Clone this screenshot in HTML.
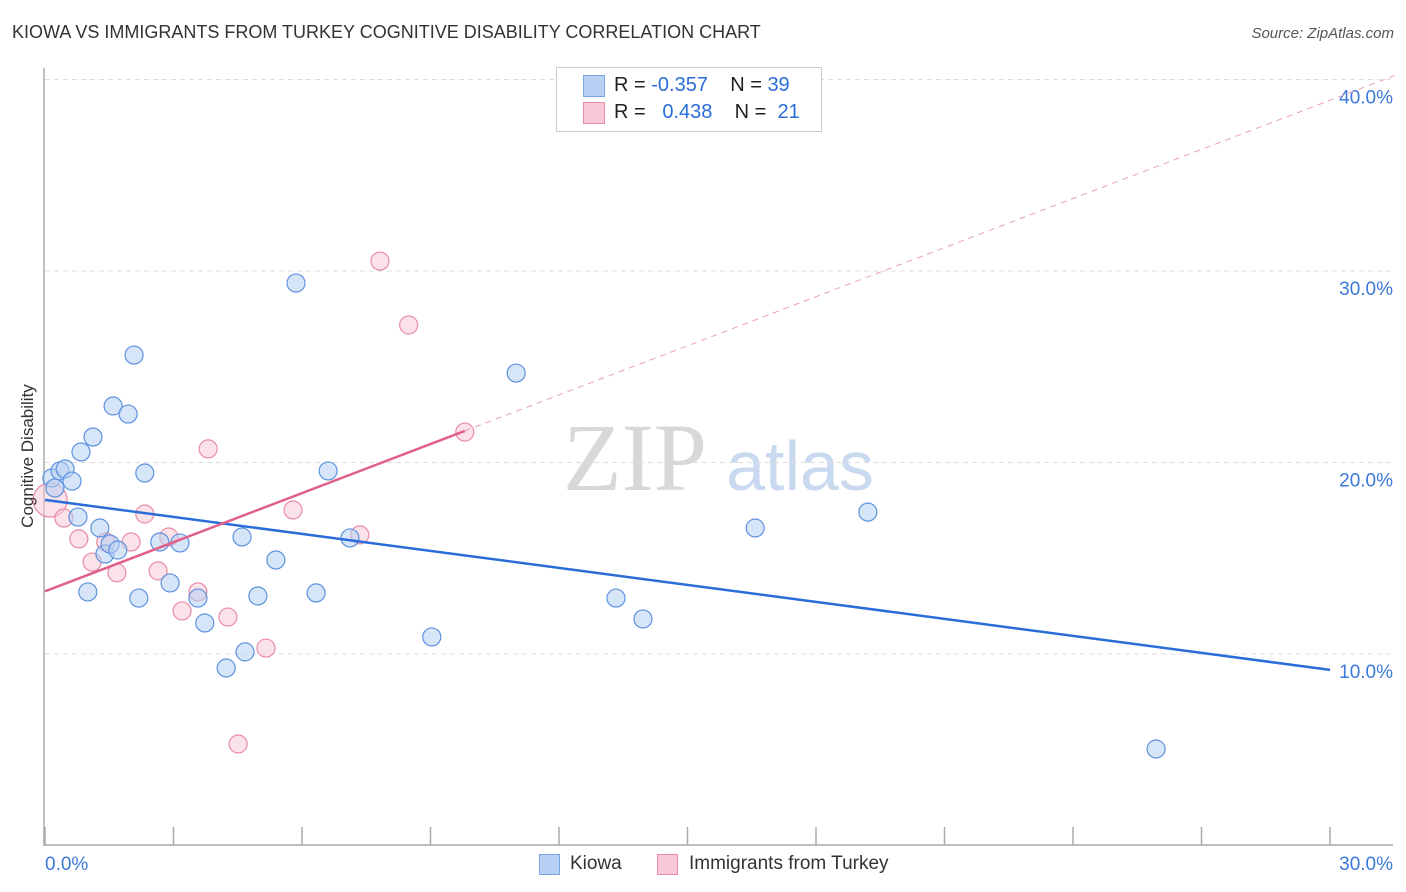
<!DOCTYPE html>
<html><head><meta charset="utf-8"><style>
body{margin:0;background:#fff;font-family:"Liberation Sans",sans-serif;}
#c{position:relative;width:1406px;height:892px;overflow:hidden;}
.t{position:absolute;white-space:nowrap;}
</style></head><body>
<div id="c">
<div class="t" style="left:12px;top:22px;font-size:18px;color:#333;">KIOWA VS IMMIGRANTS FROM TURKEY COGNITIVE DISABILITY CORRELATION CHART</div>
<div class="t" style="right:12px;top:25px;font-size:15px;color:#555;font-style:italic;">Source: ZipAtlas.com</div>
<svg id="s" width="1406" height="892" style="position:absolute;left:0;top:0">
<text x="635" y="490" font-family="Liberation Serif,serif" font-size="96" fill="#d8d8d8" text-anchor="middle">ZIP</text>
<text x="800" y="490" font-family="Liberation Sans,sans-serif" font-size="70" fill="#c9d9f0" text-anchor="middle">atlas</text>
</svg>
<div class="t" style="left:28px;top:456px;font-size:17px;color:#333;transform:translate(-50%,-50%) rotate(-90deg);">Cognitive Disability</div>
<div style="position:absolute;left:556px;top:67px;width:264px;height:63px;border:1px solid #ccc;background:#fff;"></div>
<div style="position:absolute;left:583px;top:75px;width:20px;height:20px;background:#b7d0f3;border:1px solid #7aa5e0;"></div>
<div class="t" style="left:614px;top:74px;font-size:20px;color:#222;">R = <span style="color:#2a6dd9">-0.357</span>&nbsp;&nbsp;&nbsp; N = <span style="color:#2a6dd9">39</span></div>
<div style="position:absolute;left:583px;top:102px;width:20px;height:20px;background:#f8c8d6;border:1px solid #e88ca8;"></div>
<div class="t" style="left:614px;top:101px;font-size:20px;color:#222;">R = &nbsp;&nbsp;<span style="color:#2a6dd9">0.438</span>&nbsp;&nbsp;&nbsp; N = &nbsp;<span style="color:#2a6dd9">21</span></div>
<div style="position:absolute;left:539px;top:854px;width:19px;height:19px;background:#b7d0f3;border:1px solid #7aa5e0;"></div>
<div class="t" style="left:570px;top:853px;font-size:19px;color:#333;">Kiowa</div>
<div style="position:absolute;left:657px;top:854px;width:19px;height:19px;background:#f8c8d6;border:1px solid #e88ca8;"></div>
<div class="t" style="left:689px;top:853px;font-size:19px;color:#333;">Immigrants from Turkey</div>
</div>
<script>
const kiowaX=[0.16,0.23,0.35,0.47,0.63,0.77,0.84,1.00,1.12,1.28,1.40,1.52,1.59,1.70,1.94,2.08,2.19,2.33,2.68,2.92,3.15,3.57,3.73,4.23,4.60,4.67,4.97,5.39,5.86,6.33,6.61,7.12,9.03,11.00,13.33,13.96,16.58,19.21,25.94];
const kiowaY=[19.19,18.67,19.56,19.66,19.03,17.15,20.55,13.24,21.33,16.58,15.22,15.74,22.95,15.43,22.53,25.61,12.92,19.45,15.85,13.71,15.80,12.92,11.62,9.27,16.11,10.11,13.03,14.91,29.37,13.19,19.56,16.06,10.89,24.67,12.92,11.83,16.58,17.41,5.04];
const turkeyX=[0.12,0.44,0.79,1.10,1.42,1.68,2.01,2.33,2.64,2.89,3.20,3.57,3.81,4.27,4.51,5.16,5.79,7.35,7.82,8.49,9.80];
const turkeyY=[18.04,17.10,16.01,14.80,15.85,14.24,15.85,17.31,14.34,16.11,12.25,13.24,20.71,11.93,5.30,10.31,17.52,16.22,30.52,27.18,21.59];
const yTicks=[10,20,30,40];
const yTickLabels=["10.0%","20.0%","30.0%","40.0%"];
const xTicks=[0,3,6,9,12,15,18,21,24,27,30];
const xTickLabels=["0.0%","30.0%"];

const NS="http://www.w3.org/2000/svg",s=document.getElementById('s'),c=document.getElementById('c');
const X=v=>45+v/30*1285, Y=v=>845.5-v/10*191.5;
function el(t,a){const e=document.createElementNS(NS,t);for(const k in a)e.setAttribute(k,a[k]);s.appendChild(e);return e;}
yTicks.forEach((v,i)=>{
 const g=el('line',{x1:45,x2:1393,y1:Y(v),y2:Y(v),stroke:'#ddd','stroke-dasharray':'5,4'});
 
 
 const t=el('text',{x:1393,y:Y(v)+24,'text-anchor':'end','font-size':19,fill:'#3b78d8'});
 t.textContent=yTickLabels[i];
 
 
});
const ax=el('line',{x1:44,x2:44,y1:68,y2:846,stroke:'#aaa','stroke-width':1.5});


const bx=el('line',{x1:44,x2:1393,y1:845,y2:845,stroke:'#aaa','stroke-width':1.5});


xTicks.forEach(v=>{const t=el('line',{x1:X(v),x2:X(v),y1:827,y2:845,stroke:'#aaa','stroke-width':1.5});
 
 });
[[xTickLabels[0],45,'start'],[xTickLabels[1],1393,'end']].forEach(([l,x,a])=>{
 const t=el('text',{x:x,y:870,'text-anchor':a,'font-size':19,fill:'#3b78d8'});t.textContent=l;
 
 });
function fit(xs,ys){const n=xs.length,mx=xs.reduce((a,b)=>a+b)/n,my=ys.reduce((a,b)=>a+b)/n;let sxy=0,sxx=0;xs.forEach((x,i)=>{sxy+=(x-mx)*(ys[i]-my);sxx+=(x-mx)**2});const b=sxy/sxx;return[my-b*mx,b];}
function pts(xs,ys,fill,stroke,name){xs.forEach((x,i)=>{const r=(name==='turkey-point'&&i===0)?17:9;
 const p=el('circle',{cx:X(x),cy:Y(ys[i]),r:r,fill:fill,'fill-opacity':0.55,stroke:stroke,'stroke-width':1.2});
 
 });}
pts(turkeyX,turkeyY,'#f8c8d6','#e88ca8','turkey-point');
pts(kiowaX,kiowaY,'#b7d0f3','#5e92e0','kiowa-point');
const [ka,kb]=fit(kiowaX,kiowaY);
const kl=el('line',{x1:X(0),y1:Y(ka),x2:X(30),y2:Y(ka+kb*30),stroke:'#2a6dd9','stroke-width':2.5});


const [ta,tb]=fit(turkeyX,turkeyY),tmax=Math.max(...turkeyX);
const td=el('line',{x1:X(tmax),y1:Y(ta+tb*tmax),x2:X(31.5),y2:Y(ta+tb*31.5),stroke:'#e8a0b5','stroke-width':1,'stroke-dasharray':'6,5'});


const tl=el('line',{x1:X(0),y1:Y(ta),x2:X(tmax),y2:Y(ta+tb*tmax),stroke:'#e0608a','stroke-width':2.5});


</script>
</body></html>
